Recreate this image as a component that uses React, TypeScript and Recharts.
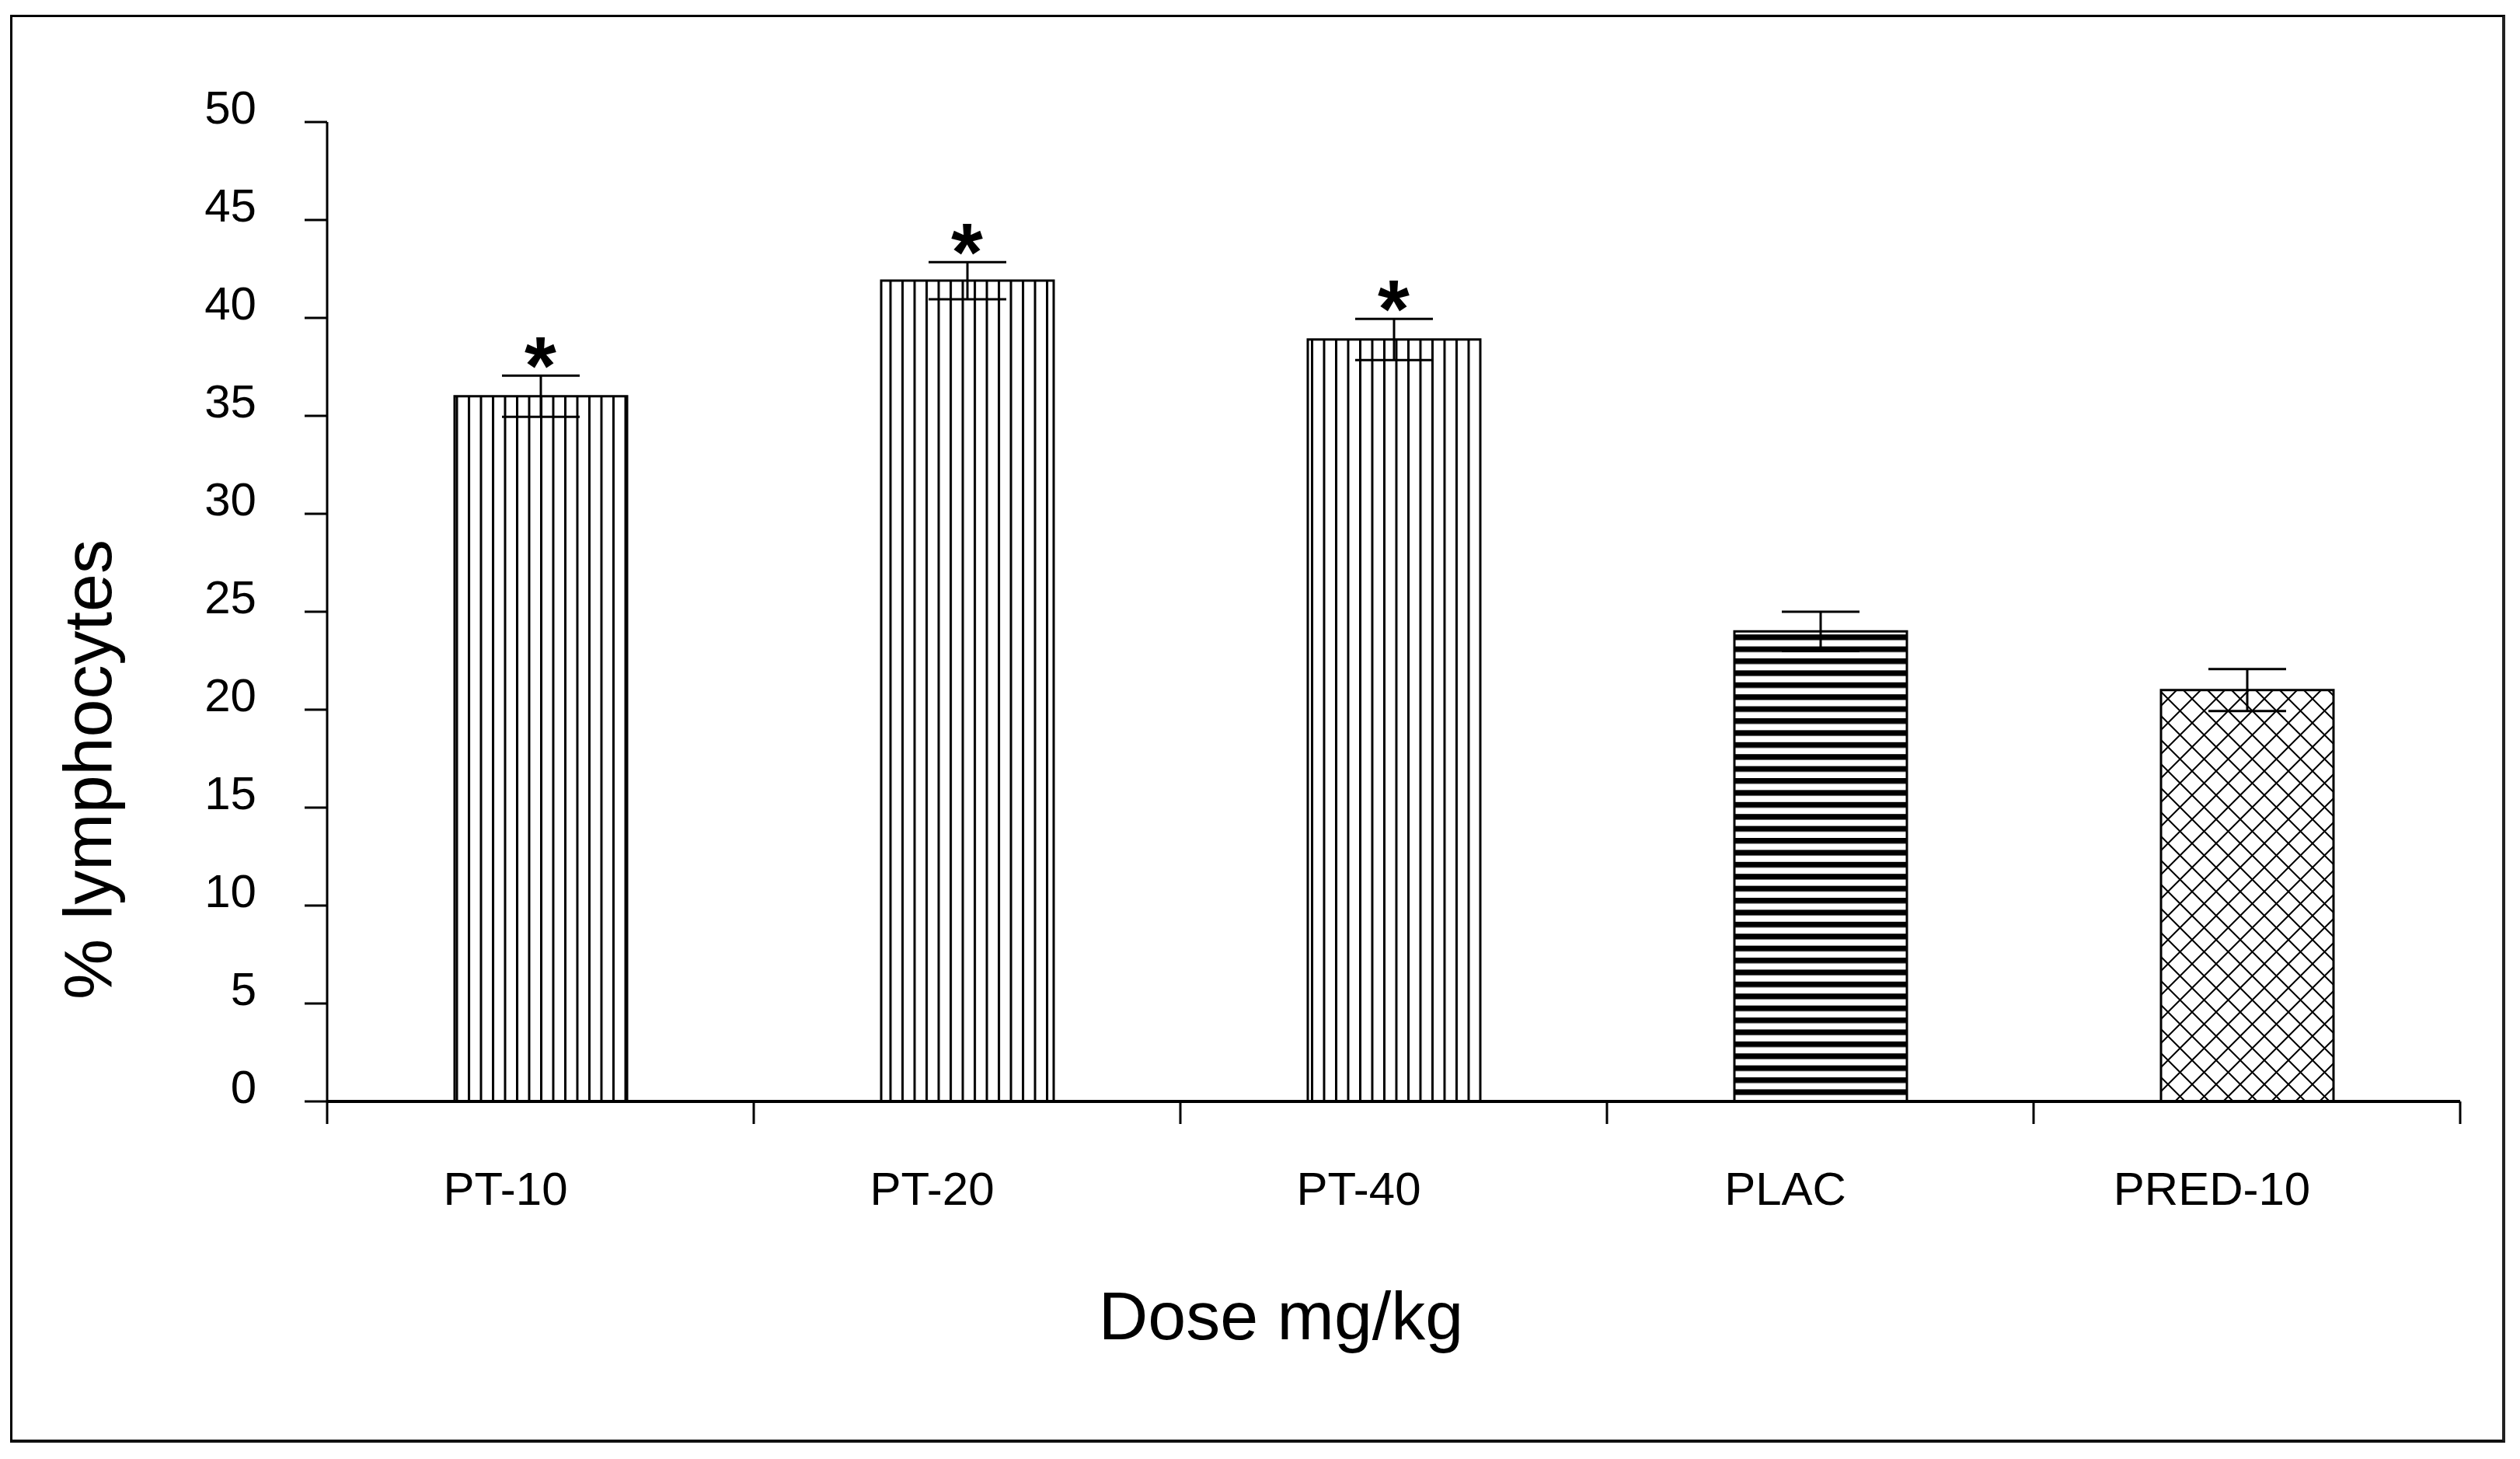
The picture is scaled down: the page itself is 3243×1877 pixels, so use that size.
import {
  Bar,
  Cell,
  ComposedChart,
  ErrorBar,
  LabelList,
  Line,
  XAxis,
  YAxis,
} from 'recharts';

const categories = ['PT-10', 'PT-20', 'PT-40', 'PLAC', 'PRED-10'];
const means = [36, 41.9, 38.9, 24, 21];
const sems = [1.05, 0.95, 1.05, 1.0, 1.07];
const significant = [true, true, true, false, false];
const yTicks = [0, 5, 10, 15, 20, 25, 30, 35, 40, 45, 50];

const data = categories.map((group, i) => ({
  group,
  mean: means[i],
  sem: sems[i],
  star: significant[i] ? means[i] + sems[i] : null,
}));

// hatch fill per bar
const fills = ['url(#vstripe)', 'url(#vstripe)', 'url(#vstripe)', 'url(#hstripe)', 'url(#xhatch)'];

const FONT = '"Liberation Sans", Arial, sans-serif';

function YTick({ x, y, payload }: any) {
  return (
    <text x={x - 62} y={y + 2} textAnchor="end" fontSize={60} fontFamily={FONT} fill="#000">
      {payload.value}
    </text>
  );
}

function XTick({ x, y, payload, index }: any) {
  const half = payload.offset ?? 274.5;
  const last = index === categories.length - 1;
  return (
    <g>
      <line x1={x - half} x2={x - half} y1={y} y2={y + 29} stroke="#000" strokeWidth={3} />
      {last && <line x1={x + half} x2={x + half} y1={y} y2={y + 29} stroke="#000" strokeWidth={3} />}
      <text x={x - 45} y={y + 133} textAnchor="middle" fontSize={60} fontFamily={FONT} fill="#000">
        {payload.value}
      </text>
    </g>
  );
}

function StarLabel({ x, y, value }: any) {
  if (value == null || y == null) return null;
  return (
    <text x={x} y={y + 24} textAnchor="middle" fontSize={105} fontWeight="bold" fontFamily={FONT} fill="#000">
      *
    </text>
  );
}

export default function App() {
  return (
    <div style={{ position: 'absolute', left: 0, top: 0, width: 3243, height: 1877, background: '#fff' }}>
      <div
        style={{
          position: 'absolute',
          left: 13,
          top: 19,
          width: 3211,
          height: 1837,
          boxSizing: 'border-box',
          borderTop: '3px solid #000',
          borderLeft: '3px solid #000',
          borderRight: '4px solid #222',
          borderBottom: '4px solid #111',
        }}
      />
      <div style={{ position: 'absolute', left: 0, top: 0 }}>
        <ComposedChart
          width={3243}
          height={1877}
          data={data}
          margin={{ top: 157, right: 77, bottom: 0, left: 0 }}
        >
          <defs>
            <pattern id="vstripe" patternUnits="userSpaceOnUse" x={13} y={0} width={15.5} height={10}>
              <rect width={15.5} height={10} fill="#fff" />
              <rect width={3} height={10} fill="#000" />
            </pattern>
            <pattern id="hstripe" patternUnits="userSpaceOnUse" x={0} y={0} width={10} height={15.4}>
              <rect width={10} height={15.4} fill="#fff" />
              <rect width={10} height={7.3} fill="#000" />
            </pattern>
            <pattern id="xhatch" patternUnits="userSpaceOnUse" x={0} y={0} width={31} height={31}>
              <rect width={31} height={31} fill="#fff" />
              <path d="M0,0 L31,31 M31,0 L0,31" stroke="#000" strokeWidth={2} strokeLinecap="square" />
            </pattern>
          </defs>
          <XAxis
            dataKey="group"
            height={460}
            tickSize={0}
            tickMargin={0}
            tickLine={false}
            axisLine={{ stroke: '#000', strokeWidth: 4 }}
            tick={<XTick />}
            interval={0}
            label={({ viewBox }: any) => (
              <text
                x={viewBox.x + viewBox.width / 2 - 145}
                y={viewBox.y + 306}
                textAnchor="middle"
                fontSize={88}
                fontFamily={FONT}
                fill="#000"
              >
                Dose mg/kg
              </text>
            )}
          />
          <YAxis
            width={421}
            domain={[0, 50]}
            ticks={yTicks}
            interval={0}
            tickSize={29}
            tickMargin={0}
            tickLine={{ stroke: '#000', strokeWidth: 3 }}
            axisLine={{ stroke: '#000', strokeWidth: 3 }}
            tick={<YTick />}
            label={({ viewBox }: any) => (
              <text
                x={143}
                y={viewBox.y + viewBox.height / 2 + 203}
                transform={`rotate(-90 143 ${viewBox.y + viewBox.height / 2 + 203})`}
                textAnchor="middle"
                fontSize={88}
                fontFamily={FONT}
                fill="#000"
              >
                % lymphocytes
              </text>
            )}
          />
          <Bar dataKey="mean" barSize={222} stroke="#000" strokeWidth={3} isAnimationActive={false}>
            {data.map((d, i) => (
              <Cell key={d.group} fill={fills[i]} />
            ))}
            <ErrorBar dataKey="sem" width={50} strokeWidth={3} stroke="#000" isAnimationActive={false} />
          </Bar>
          <Line
            dataKey="star"
            stroke="none"
            dot={false}
            activeDot={false}
            legendType="none"
            isAnimationActive={false}
          >
            <LabelList dataKey="star" content={<StarLabel />} />
          </Line>
        </ComposedChart>
      </div>
    </div>
  );
}
